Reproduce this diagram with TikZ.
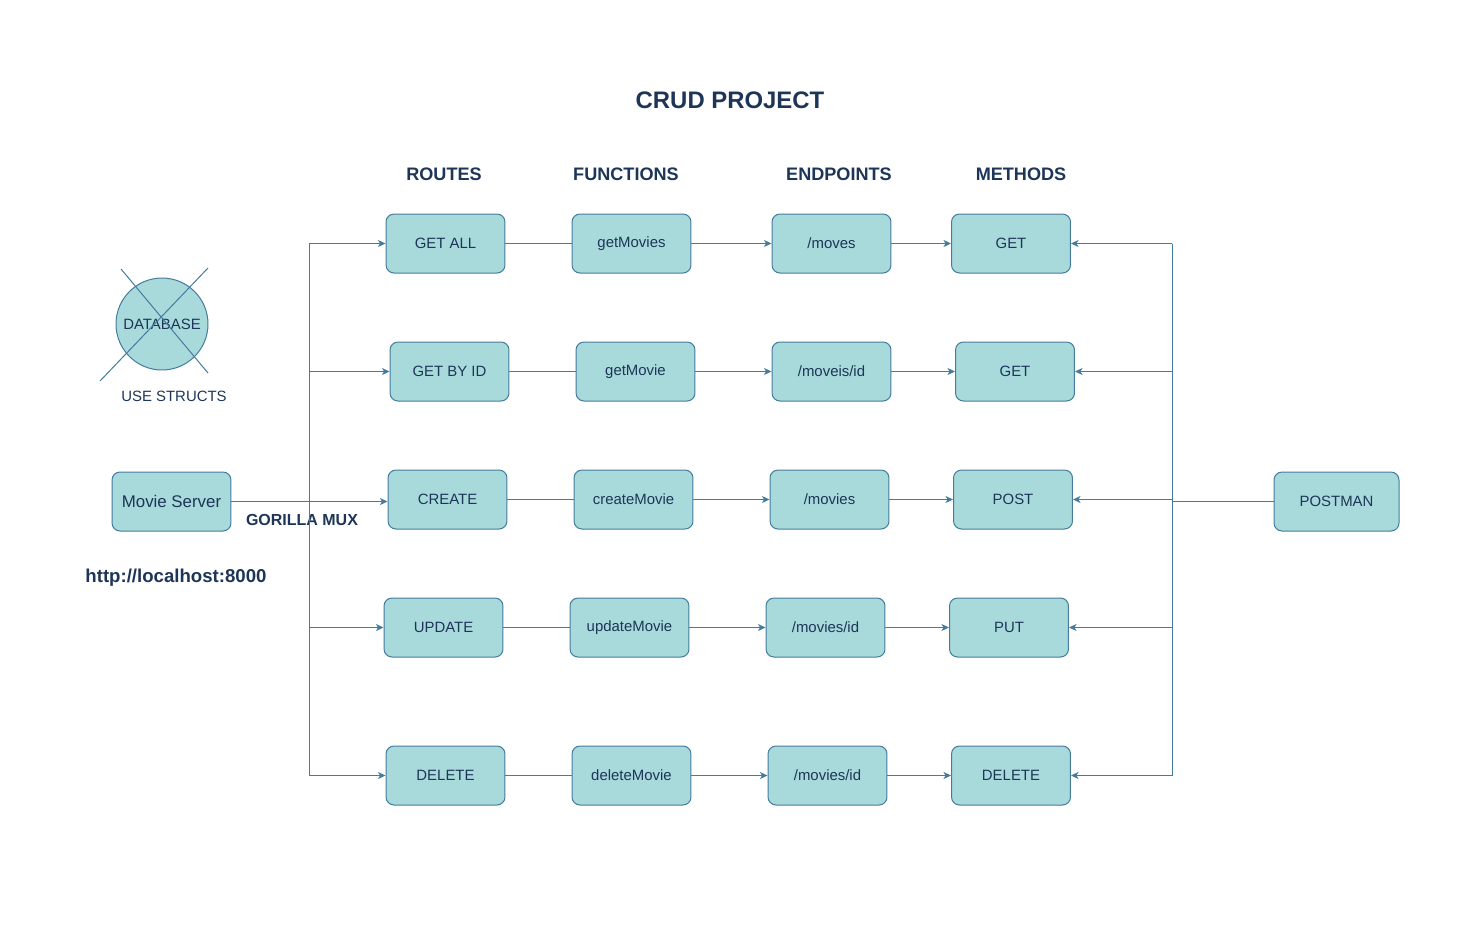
\documentclass[tikz,border=0pt]{standalone}
\usepackage{fontspec}
\setmainfont{Liberation Sans}
\usetikzlibrary{arrows.meta}
\definecolor{relleno}{HTML}{A8DADC}
\definecolor{borde}{HTML}{457B9D}
\definecolor{texto}{HTML}{1D3557}
\begin{document}
\begin{tikzpicture}[x=0.02cm,y=-0.02cm]

	%DEFINICIONES
	\tikzstyle{every node}=[font=\fontsize{8.5}{10}\selectfont, text=texto]
	\tikzstyle{block} = [draw=borde, rounded corners=0.16cm, align=center, line width=0.2mm, fill=relleno, minimum width=2.38cm, minimum height=1.18cm]
	\tikzstyle{blank} = [align=center, inner sep=0pt, outer sep=0pt]
	\tikzstyle{titulo} = [blank, font=\bfseries\fontsize{10.3}{12}\selectfont]
	\tikzstyle{flecha} = [->, draw=borde, line width=0.2mm, >={Stealth[length=1.5mm,width=1.4mm,inset=0.4mm]}]
	\tikzstyle{linea} = [draw=borde, line width=0.2mm]

	\useasboundingbox (0,0) rectangle (1458,934);

	%TITULOS
	\draw(730,100) node[blank, font=\bfseries\fontsize{13.6}{16}\selectfont](titulo){CRUD PROJECT};
	\draw(444,174) node[titulo](t1){ROUTES};
	\draw(626,174) node[titulo](t2){FUNCTIONS};
	\draw(839,174) node[titulo](t3){ENDPOINTS};
	\draw(1021,174) node[titulo](t4){METHODS};

	%BASE DE DATOS
	\draw(162,324) node[circle, draw=borde, fill=relleno, line width=0.2mm, minimum size=1.84cm, inner sep=0pt](db){DATABASE};
	\draw[linea] (121,269) -- (208,373);
	\draw[linea] (208,268) -- (100,381);
	\draw(174,396) node[blank](structs){USE STRUCTS};

	%SERVIDOR
	\draw(171.5,501.5) node[block, font=\fontsize{9.6}{11}\selectfont](ms){Movie Server};
	\draw(302,520) node[blank, font=\bfseries\fontsize{9.1}{11}\selectfont](mux){GORILLA MUX};
	\draw(176,578) node[blank, font=\bfseries\fontsize{10.6}{12}\selectfont](url){http://localhost:8000};
	\draw(1336.5,501.5) node[block, minimum width=2.5cm](pm){POSTMAN};

	%BLOQUES
	\draw(445.5,243.5) node[block](r1){GET ALL};
	\draw(449.5,371.5) node[block](r2){GET BY ID};
	\draw(447.5,499.5) node[block](r3){CREATE};
	\draw(443.5,627.5) node[block](r4){UPDATE};
	\draw(445.5,775.5) node[block](r5){DELETE};

	\draw(631.5,243.5) node[block](f1){getMovies};
	\draw(635.5,371.5) node[block](f2){getMovie};
	\draw(633.5,499.5) node[block](f3){createMovie};
	\draw(629.5,627.5) node[block](f4){updateMovie};
	\draw(631.5,775.5) node[block](f5){deleteMovie};

	\draw(831.5,243.5) node[block](e1){/moves};
	\draw(831.5,371.5) node[block](e2){/moveis/id};
	\draw(829.5,499.5) node[block](e3){/movies};
	\draw(825.5,627.5) node[block](e4){/movies/id};
	\draw(827.5,775.5) node[block](e5){/movies/id};

	\draw(1011,243.5) node[block](m1){GET};
	\draw(1015,371.5) node[block](m2){GET};
	\draw(1013,499.5) node[block](m3){POST};
	\draw(1009,627.5) node[block](m4){PUT};
	\draw(1011,775.5) node[block](m5){DELETE};

	%FLECHAS
	\coordinate (izq) at (309,243.5);
	\coordinate (izqb) at (309,775.5);
	\coordinate (der) at (1172,243.5);
	\coordinate (derb) at (1172,775.5);

	\draw[linea] (izq) -- (izqb);
	\draw[linea] (der) -- (derb);
	\draw[flecha] (ms.east) -- (ms.east -| r3.west);
	\draw[linea] (pm.west) -- (pm -| der);

	\foreach \i in {1,2,4,5}{
		\draw[flecha] (r\i -| izq) -- (r\i.west);
	}
	\foreach \i in {1,...,5}{
		\draw[linea] (r\i.east) -- (f\i.west);
		\draw[flecha] (f\i.east) -- (e\i.west);
		\draw[flecha] (e\i.east) -- (m\i.west);
		\draw[flecha] (m\i -| der) -- (m\i.east);
	}
\end{tikzpicture}
\end{document}
